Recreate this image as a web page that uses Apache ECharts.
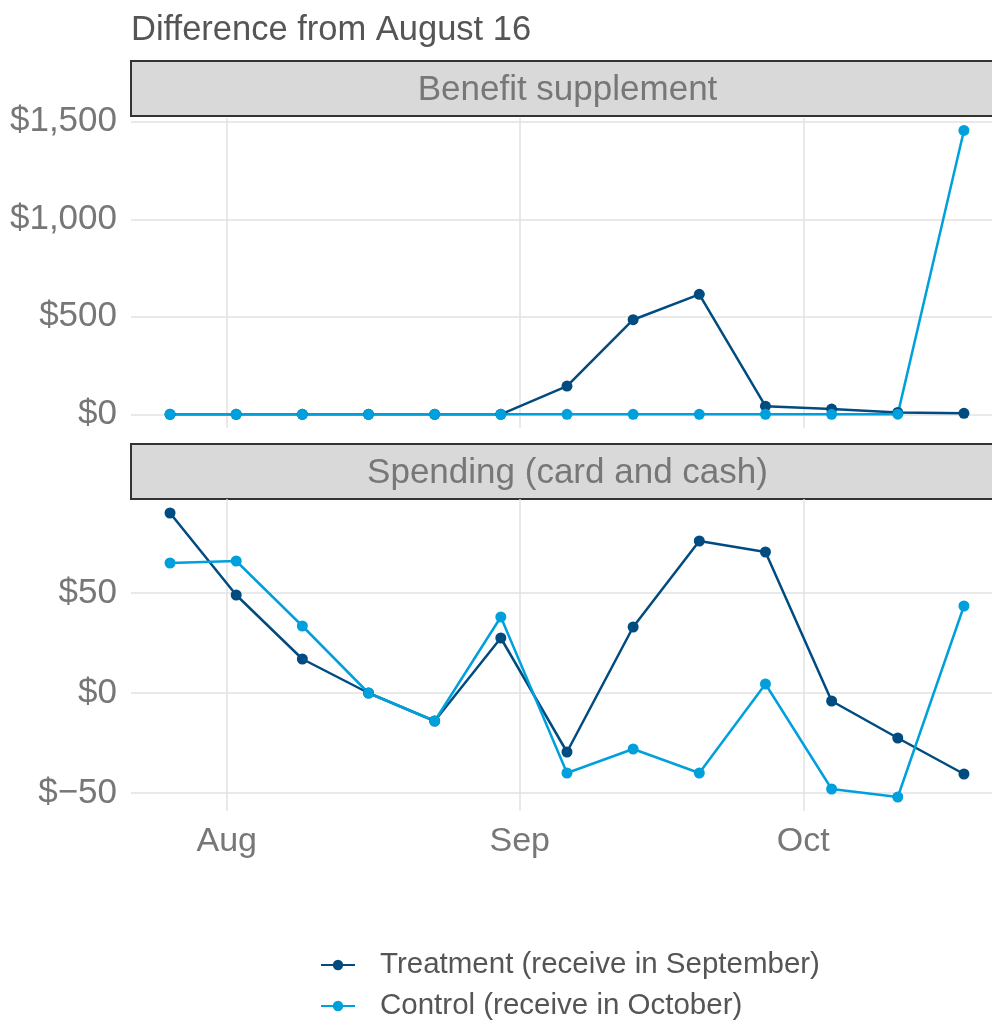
<!DOCTYPE html>
<html>
<head>
<meta charset="utf-8">
<title>Difference from August 16</title>
<script src="https://cdn.jsdelivr.net/npm/echarts@6/dist/echarts.min.js"></script>
<style>
  html, body { margin: 0; padding: 0; background: #fff; }
  #main { width: 992px; height: 1021px; }
</style>
</head>
<body>
<div id="main"></div>
<script>
// weekly dates
var weeks = ['2020-07-26', '2020-08-02', '2020-08-09', '2020-08-16', '2020-08-23', '2020-08-30',
             '2020-09-06', '2020-09-13', '2020-09-20', '2020-09-27', '2020-10-04', '2020-10-11', '2020-10-18'];
var panelNames = ['Benefit supplement', 'Spending (card and cash)'];
var seriesNames = ['Treatment (receive in September)', 'Control (receive in October)'];
var monthNames = ['Jan', 'Feb', 'Mar', 'Apr', 'May', 'Jun', 'Jul', 'Aug', 'Sep', 'Oct', 'Nov', 'Dec'];

// benefit supplement, difference from Aug 16 ($)
var benefitTreatment = [0, 0, 0, 0, 0, 0, 145, 485, 615, 42, 27, 10, 5];
var benefitControl   = [0, 0, 0, 0, 0, 0, 0, 0, 0, 0, 0, 1, 1455];
// spending (card and cash), difference from Aug 16 ($)
var spendTreatment = [90, 49, 17, 0, -14, 27.5, -29.5, 33, 76, 70.5, -4, -22.5, -40.5];
var spendControl   = [65, 66, 33.5, 0, -14, 38, -40, -28, -40, 4.5, -48, -52, 43.5];

var colTreat = '#004b80';
var colCtrl = '#00a0dc';
var font = 'Liberation Sans, Arial, sans-serif';
var DAY = 86400000;

var xMin = new Date(weeks[0]).getTime() - 4.13 * DAY;
var xMax = new Date(weeks[weeks.length - 1]).getTime() + 2.97 * DAY;

function pairs(vals) {
  return weeks.map(function (d, i) { return [d, vals[i]]; });
}

function dollar(v) {
  var s = Math.abs(v).toString().replace(/\B(?=(\d{3})+(?!\d))/g, ',');
  return (v < 0 ? '$\u2212' : '$') + s;
}

var myChart = echarts.init(document.getElementById('main'));

function xAxisFor(idx, labels) {
  return {
    type: 'time', gridIndex: idx, min: xMin, max: xMax, splitNumber: 3,
    axisLine: { show: false }, axisTick: { show: false },
    axisLabel: {
      show: labels, fontSize: 34, color: '#777', fontFamily: font, margin: 14,
      showMinLabel: false, showMaxLabel: false,
      formatter: function (v) { return monthNames[new Date(v).getMonth()]; }
    },
    splitLine: { show: true, showMinLine: false, showMaxLine: false,
      lineStyle: { color: '#e2e2e2', width: 1.5 } }
  };
}

function yAxisFor(idx, mn, mx) {
  return {
    type: 'value', gridIndex: idx, min: mn, max: mx, splitNumber: 3,
    axisLine: { show: false }, axisTick: { show: false },
    axisLabel: { fontSize: 35, color: '#777', fontFamily: font, margin: 14,
      showMinLabel: false, showMaxLabel: false, formatter: dollar },
    splitLine: { show: true, showMinLine: false, showMaxLine: false,
      lineStyle: { color: '#e2e2e2', width: 1.5 } }
  };
}

function lineSeries(name, vals, color, idx) {
  return {
    name: name, type: 'line', xAxisIndex: idx, yAxisIndex: idx,
    data: pairs(vals), symbol: 'circle', symbolSize: 11, showSymbol: true,
    lineStyle: { color: color, width: 2.5 }, itemStyle: { color: color },
    emphasis: { disabled: true }
  };
}

function strip(y, text) {
  return [
    { type: 'rect', shape: { x: 131, y: y, width: 900, height: 55 },
      style: { fill: '#d9d9d9', stroke: '#333', lineWidth: 2 } },
    { type: 'text', x: 567.5, y: y + 29,
      style: { text: text, fontSize: 35, fill: '#777', fontFamily: font,
        textAlign: 'center', textVerticalAlign: 'middle' } }
  ];
}

function legendFor(name, top) {
  return {
    data: [name], left: 315, top: top,
    itemWidth: 34, itemHeight: 13, itemGap: 0,
    textStyle: { fontSize: 29.5, color: '#555', fontFamily: font, padding: [0, 0, 0, 20] }
  };
}

var option = {
  animation: false,
  backgroundColor: '#fff',
  title: {
    text: 'Difference from August 16', left: 126, top: 8,
    textStyle: { fontSize: 34.5, color: '#555', fontWeight: 'normal', fontFamily: font }
  },
  legend: [legendFor(seriesNames[0], 945), legendFor(seriesNames[1], 986)],
  grid: [
    { left: 131, right: 0, top: 118, height: 310, containLabel: false },
    { left: 131, right: 0, top: 499, height: 312, containLabel: false }
  ],
  xAxis: [xAxisFor(0, false), xAxisFor(1, true)],
  yAxis: [yAxisFor(0, -70, 1519), yAxisFor(1, -59, 97)],
  graphic: strip(61, panelNames[0]).concat(strip(444, panelNames[1])),
  series: [
    lineSeries(seriesNames[0], benefitTreatment, colTreat, 0),
    lineSeries(seriesNames[1], benefitControl, colCtrl, 0),
    lineSeries(seriesNames[0], spendTreatment, colTreat, 1),
    lineSeries(seriesNames[1], spendControl, colCtrl, 1)
  ]
};
myChart.setOption(option);
</script>
</body>
</html>
